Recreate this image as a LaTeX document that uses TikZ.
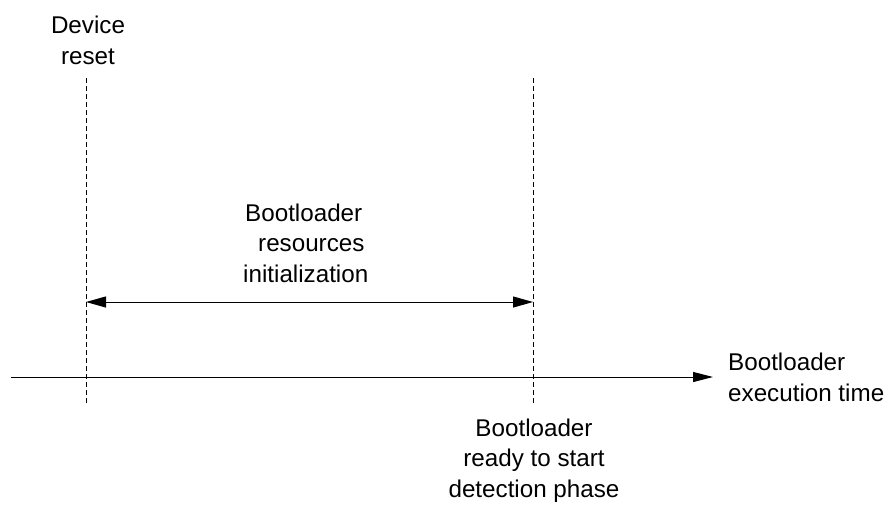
\documentclass[tikz,border=0pt]{standalone}
\usepackage{fontspec}
\setmainfont{Liberation Sans}
\usetikzlibrary{arrows.meta}
\begin{document}
\begin{tikzpicture}[x=1pt,y=-1pt,
  guide/.style={line width=0.8pt, dash pattern=on 4.5pt off 3.5pt},
  conn/.style={line width=1pt},
  bigtri/.tip={Triangle[length=20pt,width=11pt]},
  lbl/.style={font=\fontsize{24.2}{30.5}\selectfont, inner sep=0pt, anchor=base}]
\useasboundingbox (0,0) rectangle (896,504);
% guide lines
\coordinate (lt) at (86,78);
\coordinate (lb) at (86,406);
\coordinate (rt) at (533,78);
\coordinate (rb) at (533,406);
\draw[guide] (lt) -- (lb);
\draw[guide] (rt) -- (rb);
% span arrow
\coordinate (sa) at (86,302);
\coordinate (sb) at (533,302);
\draw[conn, {bigtri}-{bigtri}] (sa) -- (sb);
% time axis
\coordinate (ta) at (11,377);
\coordinate (tb) at (713,377);
\draw[conn, -{Triangle[length=20pt,width=10pt]}] (ta) -- (tb);
% labels (base = baseline of last line)
\node[lbl, align=center] (reset) at (88,64) {Device\\reset};
\node[lbl, align=left, anchor=base west] (init) at (243,282) {\hspace{2pt}Bootloader\\\hspace{15pt}resources\\initialization};
\node[lbl, align=left, anchor=base west] (exec) at (728,401) {Bootloader\\execution time};
\node[lbl, align=center] (ready) at (534,497) {Bootloader\\ready to start\\detection phase};
\end{tikzpicture}
\end{document}
